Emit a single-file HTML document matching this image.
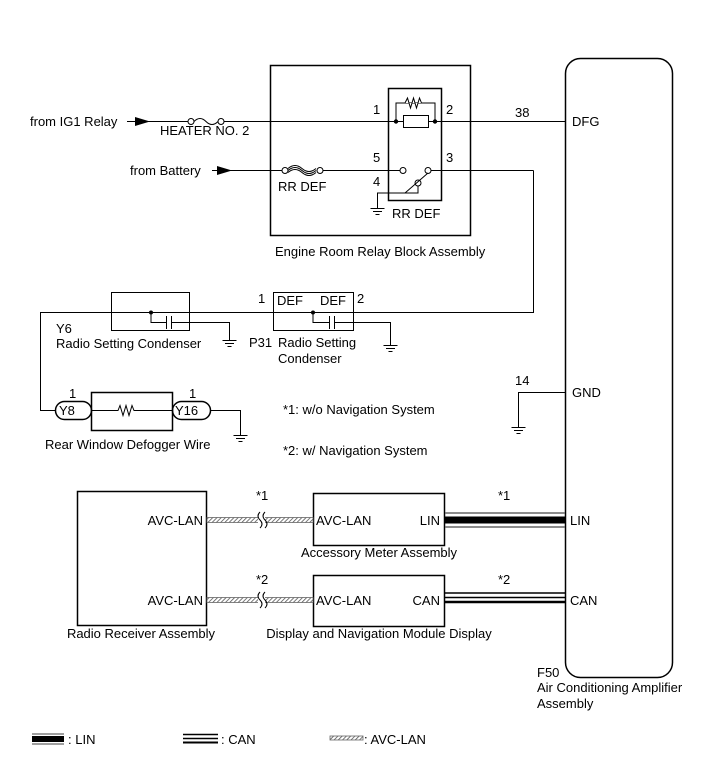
<!DOCTYPE html>
<html><head><meta charset="utf-8"><style>
html,body{margin:0;padding:0;background:#fff}
svg{display:block}
text{font-family:"Liberation Sans",Arial,sans-serif;font-size:13px;fill:#000}
</style></head><body>
<svg width="713" height="782" viewBox="0 0 713 782" xmlns="http://www.w3.org/2000/svg">
<defs>
<pattern id="hatch" width="3" height="3" patternUnits="userSpaceOnUse" patternTransform="rotate(45)">
<rect width="3" height="3" fill="#fff"/><line x1="0" y1="0" x2="0" y2="3" stroke="#555" stroke-width="1.6"/>
</pattern>
<g id="gnd"><line x1="-7" y1="0" x2="7" y2="0" stroke="#000"/><line x1="-4.5" y1="3" x2="4.5" y2="3" stroke="#000"/><line x1="-2" y1="6" x2="2" y2="6" stroke="#000"/></g>
</defs>
<g fill="none" stroke="#000" stroke-width="1">
<rect x="565.5" y="58.5" width="107" height="619" rx="15" stroke-width="1.5"/>
<rect x="270.5" y="65.5" width="200" height="170" stroke-width="1.5"/>
<rect x="388.5" y="88.5" width="53" height="112" stroke-width="1.5"/>
<line x1="127" y1="121.5" x2="188" y2="121.5"/>
<circle cx="191" cy="121.5" r="3"/>
<path d="M194 121.5 q6 -6 12 0 t12 0"/>
<circle cx="221" cy="121.5" r="3"/>
<line x1="224" y1="121.5" x2="565" y2="121.5"/>
<path d="M396 121.5 V103 H435 V121.5"/>
<path d="M405 103 l2.5 -5 l3 10 l3 -10 l3 10 l3 -10 l2 5" fill="#fff"/>
<rect x="403.5" y="115.5" width="25" height="12" fill="#fff"/>
<line x1="212" y1="170.5" x2="282" y2="170.5"/>
<circle cx="285" cy="170.5" r="3"/>
<path d="M288 170.5 q7 -6 14 0 t14 0 M288 168.5 q7 -6 14 0 t14 0 M288 172.5 q7 -6 14 0 t14 0"/>
<circle cx="320" cy="170.5" r="3"/>
<line x1="323" y1="170.5" x2="400" y2="170.5"/>
<circle cx="403" cy="170.5" r="3"/>
<circle cx="428" cy="170.5" r="3"/>
<line x1="431" y1="170.5" x2="533.5" y2="170.5"/>
<circle cx="418" cy="183" r="3"/>
<line x1="405" y1="193" x2="428" y2="173"/>
<path d="M418 186 V193 H377.5 V208"/>
<path d="M533.5 170.5 V312.5 H40.5 V410.5 H55"/>
<rect x="111.5" y="292.5" width="78" height="38"/>
<path d="M151 312.5 V322.5 H166 M172 322.5 H229.5 V340"/>
<line x1="166.5" y1="316" x2="166.5" y2="329"/>
<line x1="171.5" y1="316" x2="171.5" y2="329"/>
<rect x="273.5" y="292.5" width="80" height="38"/>
<path d="M313 312.5 V322.5 H329 M335 322.5 H390.5 V345"/>
<line x1="329.5" y1="316" x2="329.5" y2="329"/>
<line x1="334.5" y1="316" x2="334.5" y2="329"/>
<rect x="55.5" y="401.5" width="36" height="18" rx="9" stroke-width="1.5"/>
<rect x="91.5" y="392.5" width="81" height="38" stroke-width="1.5"/>
<rect x="172.5" y="401.5" width="38" height="18" rx="9" stroke-width="1.5"/>
<path d="M91 410.5 H118 l2 -5 l3 10 l3 -10 l3 10 l3 -10 l2 5 H172"/>
<path d="M210 410.5 H240.5 V435"/>
<path d="M565 392.5 H518.5 V427"/>
<rect x="77.5" y="491.5" width="129" height="134" stroke-width="1.5"/>
<rect x="313.5" y="493.5" width="131" height="52" stroke-width="1.5"/>
<rect x="313.5" y="575.5" width="131" height="51" stroke-width="1.5"/>
</g>
<g fill="#000">
<circle cx="396" cy="121.5" r="2.2"/><circle cx="435" cy="121.5" r="2.2"/>
<circle cx="151" cy="312.5" r="2"/><circle cx="313" cy="312.5" r="2"/>
<path d="M135 117 L150 121.5 L135 126 Z"/>
<path d="M217 166 L232 170.5 L217 175 Z"/>
</g>
<use href="#gnd" x="377.5" y="208.5"/>
<use href="#gnd" x="229.5" y="340.5"/>
<use href="#gnd" x="390.5" y="345.5"/>
<use href="#gnd" x="240.5" y="435.5"/>
<use href="#gnd" x="518.5" y="427.5"/>
<rect x="207" y="517.5" width="106" height="5" fill="url(#hatch)" stroke="#666" stroke-width="0.8"/>
<rect x="207" y="597.5" width="106" height="5" fill="url(#hatch)" stroke="#666" stroke-width="0.8"/>
<g fill="none" stroke="#000" stroke-width="1">
<rect x="258" y="512" width="7" height="16" fill="#fff" stroke="none"/>
<path d="M260 512 q-4 4 0 8 q4 4 0 8 M265 512 q-4 4 0 8 q4 4 0 8"/>
<rect x="258" y="592" width="7" height="16" fill="#fff" stroke="none"/>
<path d="M260 592 q-4 4 0 8 q4 4 0 8 M265 592 q-4 4 0 8 q4 4 0 8"/>
</g>
<g stroke="#000">
<line x1="445" y1="513" x2="565" y2="513" stroke="#666" stroke-width="1.5"/>
<line x1="445" y1="520" x2="565" y2="520" stroke-width="7"/>
<line x1="445" y1="527" x2="565" y2="527" stroke="#666" stroke-width="1.5"/>
<line x1="445" y1="593" x2="565" y2="593" stroke-width="1.5"/>
<line x1="445" y1="597.5" x2="565" y2="597.5" stroke-width="1.5"/>
<line x1="445" y1="602" x2="565" y2="602" stroke-width="2.5"/>
<line x1="32" y1="734" x2="64" y2="734" stroke="#666" stroke-width="1.2"/>
<line x1="32" y1="739" x2="64" y2="739" stroke-width="6"/>
<line x1="32" y1="744" x2="64" y2="744" stroke="#666" stroke-width="1.2"/>
<line x1="183" y1="734.5" x2="218" y2="734.5" stroke-width="1.5"/>
<line x1="183" y1="738.5" x2="218" y2="738.5" stroke-width="1.5"/>
<line x1="183" y1="742.5" x2="218" y2="742.5" stroke-width="2"/>
</g>
<rect x="330" y="736" width="33" height="4" fill="url(#hatch)" stroke="#666" stroke-width="0.8"/>
<text x="30" y="126">from IG1 Relay</text>
<text x="160" y="135">HEATER NO. 2</text>
<text x="130" y="175">from Battery</text>
<text x="278" y="191">RR DEF</text>
<text x="373" y="114">1</text><text x="446" y="114">2</text>
<text x="373" y="162">5</text><text x="446" y="162">3</text>
<text x="373" y="186">4</text>
<text x="392" y="218">RR DEF</text>
<text x="275" y="256">Engine Room Relay Block Assembly</text>
<text x="515" y="117">38</text>
<text x="572" y="126">DFG</text>
<text x="258" y="303">1</text><text x="277" y="305">DEF</text><text x="320" y="305">DEF</text><text x="357" y="303">2</text>
<text x="56" y="333">Y6</text>
<text x="56" y="348">Radio Setting Condenser</text>
<text x="249" y="347">P31</text><text x="278" y="347">Radio Setting</text>
<text x="278" y="363">Condenser</text>
<text x="69" y="398">1</text><text x="189" y="398">1</text>
<text x="59" y="415">Y8</text><text x="175" y="415">Y16</text>
<text x="45" y="449">Rear Window Defogger Wire</text>
<text x="283" y="414">*1: w/o Navigation System</text>
<text x="283" y="455">*2: w/ Navigation System</text>
<text x="515" y="385">14</text><text x="572" y="397">GND</text>
<text x="203" y="525" text-anchor="end">AVC-LAN</text>
<text x="203" y="605" text-anchor="end">AVC-LAN</text>
<text x="256" y="500">*1</text><text x="256" y="584">*2</text>
<text x="498" y="500">*1</text><text x="498" y="584">*2</text>
<text x="316" y="525">AVC-LAN</text><text x="440" y="525" text-anchor="end">LIN</text>
<text x="316" y="605">AVC-LAN</text><text x="440" y="605" text-anchor="end">CAN</text>
<text x="379" y="557" text-anchor="middle">Accessory Meter Assembly</text>
<text x="379" y="638" text-anchor="middle">Display and Navigation Module Display</text>
<text x="141" y="638" text-anchor="middle">Radio Receiver Assembly</text>
<text x="570" y="525">LIN</text><text x="570" y="605">CAN</text>
<text x="537" y="677">F50</text>
<text x="537" y="692">Air Conditioning Amplifier</text>
<text x="537" y="708">Assembly</text>
<text x="68" y="744">: LIN</text>
<text x="221" y="744">: CAN</text>
<text x="364" y="744">: AVC-LAN</text>
</svg>
</body></html>
